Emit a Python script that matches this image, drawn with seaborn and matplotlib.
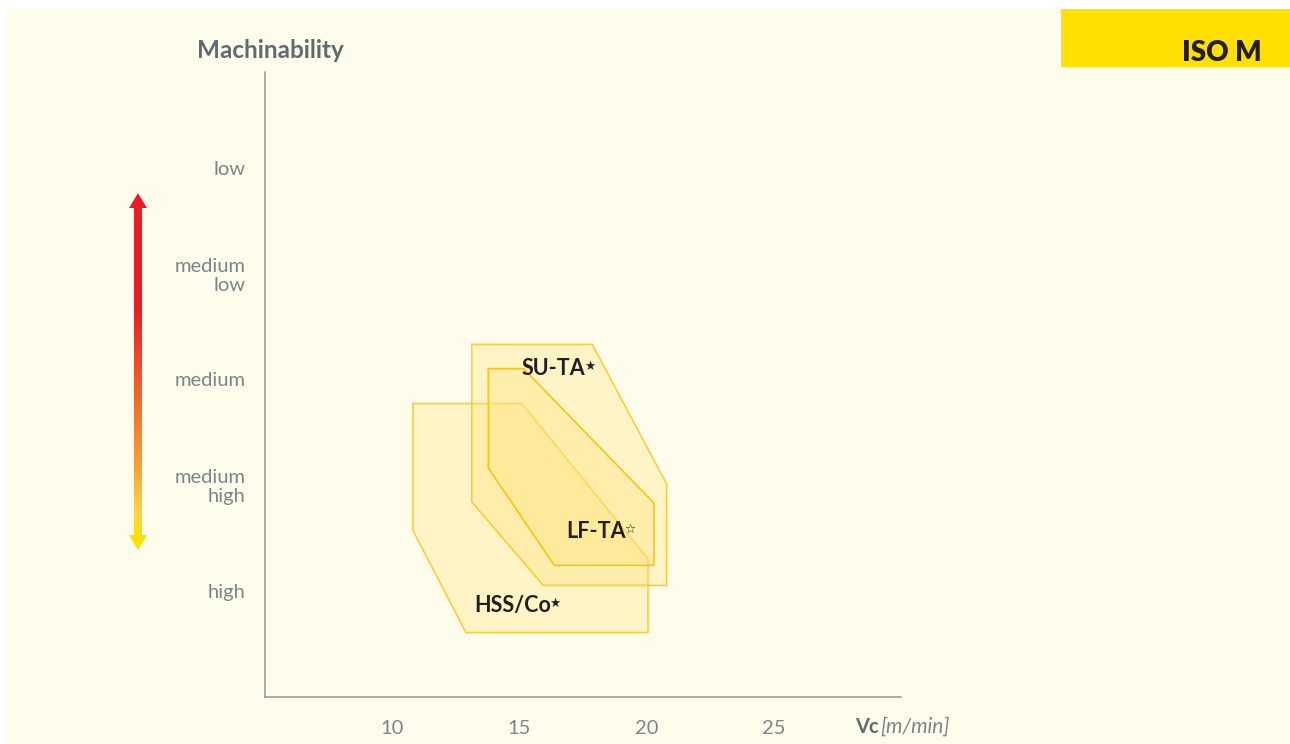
import matplotlib
matplotlib.use("Agg")
import numpy as np
import matplotlib.pyplot as plt
import seaborn as sns
from matplotlib.colors import LinearSegmentedColormap
from matplotlib.patches import Rectangle, Polygon

# Machinability scale (y) and cutting-speed ticks (x)
mach_levels = [1, 2, 3, 4, 5]
mach_labels = ["high", "medium\nhigh", "medium", "medium\nlow", "low"]
vc_ticks = [10, 15, 20, 25]

# Application windows: cutting speed Vc [m/min] vs machinability
hss_vc = [10.82, 15.10, 20.05, 20.05, 12.90, 10.82]
hss_mach = [2.77, 2.77, 1.30, 0.605, 0.605, 1.57]
suta_vc = [13.13, 17.86, 20.78, 20.78, 15.94, 13.13]
suta_mach = [3.33, 3.33, 2.01, 1.05, 1.05, 1.84]
lfta_vc = [13.78, 15.16, 20.28, 20.28, 16.37, 13.78]
lfta_mach = [3.10, 3.10, 1.83, 1.24, 1.24, 2.16]

tool_names = ["HSS/Co", "SU-TA", "LF-TA"]
tool_stars = ["★", "★", "☆"]
label_vc = [13.21, 15.10, 16.83]
label_mach = [0.86, 3.10, 1.56]

sns.set_theme(style="white")
plt.rcParams["font.family"] = ["Lato", "DejaVu Sans"]

W, H = 1290, 744
fig = plt.figure(figsize=(W / 100, H / 100), dpi=100, facecolor="white")


def fbox(x0, y0, x1, y1):
    """pixel box (top-left origin) -> figure fraction rect"""
    return [x0 / W, 1 - y1 / H, (x1 - x0) / W, (y1 - y0) / H]


# cream page and the yellow header tab
fig.patches.append(Rectangle((5 / W, 0), 1 - 5 / W, 1 - 9 / H, transform=fig.transFigure,
                             facecolor="#FEFDEC", edgecolor="none", zorder=-10))
fig.patches.append(Rectangle((1061 / W, 1 - 67 / H), 229 / W, 58 / H, transform=fig.transFigure,
                             facecolor="#FFE000", edgecolor="none", zorder=-9))
fig.text(1262 / W, 1 - 61 / H, "ISO M", ha="right", va="baseline", fontsize=20,
         fontweight="heavy", color="#231F20")

# main axes
ax = fig.add_axes(fbox(264.7, 72, 901.4, 696.5))
ax.set_facecolor("none")
ax.set_xlim(5, 30)
ax.set_ylim(0, 5.905)

spine_c = "#8E969B"
for s in ["top", "right"]:
    ax.spines[s].set_visible(False)
for s in ["left", "bottom"]:
    ax.spines[s].set_color(spine_c)
    ax.spines[s].set_linewidth(1.1)

# application windows
fill_c = "#FFE27A"
edge_c = "#FFC20E"
polys = [(hss_vc, hss_mach, 0.8), (suta_vc, suta_mach, 0.8), (lfta_vc, lfta_mach, 1.0)]
for i, (xs, ys, ea) in enumerate(polys):
    ax.fill(xs, ys, facecolor=fill_c, alpha=0.33, edgecolor="none", zorder=2 + 2 * i)
    sns.lineplot(x=xs + xs[:1], y=ys + ys[:1], sort=False, estimator=None, ax=ax,
                 color=edge_c, lw=1.2, alpha=ea, zorder=3 + 2 * i)

ax.set_xlim(5, 30)
ax.set_ylim(0, 5.905)
ax.set_xticks(vc_ticks)
ax.set_xticklabels([str(v) for v in vc_ticks])
ax.set_yticks(mach_levels)
ax.set_yticklabels(mach_labels, linespacing=1.12)
ax.tick_params(axis="both", direction="out", length=5, width=1, color=spine_c,
               labelcolor="#7C858B", labelsize=14.5)
ax.tick_params(axis="y", pad=9)
ax.tick_params(axis="x", pad=12)
ax.set_xlabel("")
ax.set_ylabel("")

txt = []
for name, x, y in zip(tool_names, label_vc, label_mach):
    txt.append(ax.text(x, y, name, fontsize=15.5, fontweight="bold", color="#231F20",
                       ha="left", va="center", zorder=10))

fig.canvas.draw()
r = fig.canvas.get_renderer()
inv = ax.transData.inverted()
for t, star in zip(txt, tool_stars):
    bb = t.get_window_extent(r)
    sx, sy = inv.transform((bb.x1 - 1, bb.y1 - 2))
    ax.text(sx, sy, star, fontsize=9, color="#231F20", ha="left", va="top",
            family=["DejaVu Sans"], zorder=10)

# axis titles
fig.text(197 / W, 1 - 58 / H, "Machinability", ha="left", va="baseline", fontsize=17.5,
         fontweight="bold", color="#5F6A72")
fig.text(855 / W, 1 - 733 / H, "Vc", ha="left", va="baseline", fontsize=14.5,
         fontweight="bold", color="#5F6A72")
fig.text(880 / W, 1 - 733 / H, "[m/min]", ha="left", va="baseline", fontsize=15,
         style="italic", color="#7C858B")

# machinability direction arrow (red = hard, yellow = easy)
aax = fig.add_axes(fbox(120, 180, 156, 560))
aax.set_xlim(120, 156)
aax.set_ylim(560, 180)
aax.axis("off")
grad = LinearSegmentedColormap.from_list(
    "mach", [(0.0, "#EC1C24"), (0.4, "#F26A2A"), (0.7, "#F7A33A"),
             (0.9, "#FDD644"), (1.0, "#FFE100")])
aax.imshow(np.linspace(0, 1, 256)[:, None], cmap=grad, aspect="auto",
           extent=(134, 142, 536, 307), origin="upper", interpolation="bilinear")
aax.add_patch(Rectangle((134, 206), 8, 102, facecolor="#EE1C25", edgecolor="none"))
aax.add_patch(Polygon([(129, 208), (147, 208), (138, 193)], closed=True,
                      facecolor="#EE1C25", edgecolor="none"))
aax.add_patch(Polygon([(129, 535), (147, 535), (138, 550)], closed=True,
                      facecolor="#FFE000", edgecolor="none"))

fig.savefig("out.png", dpi=100, facecolor="white")
